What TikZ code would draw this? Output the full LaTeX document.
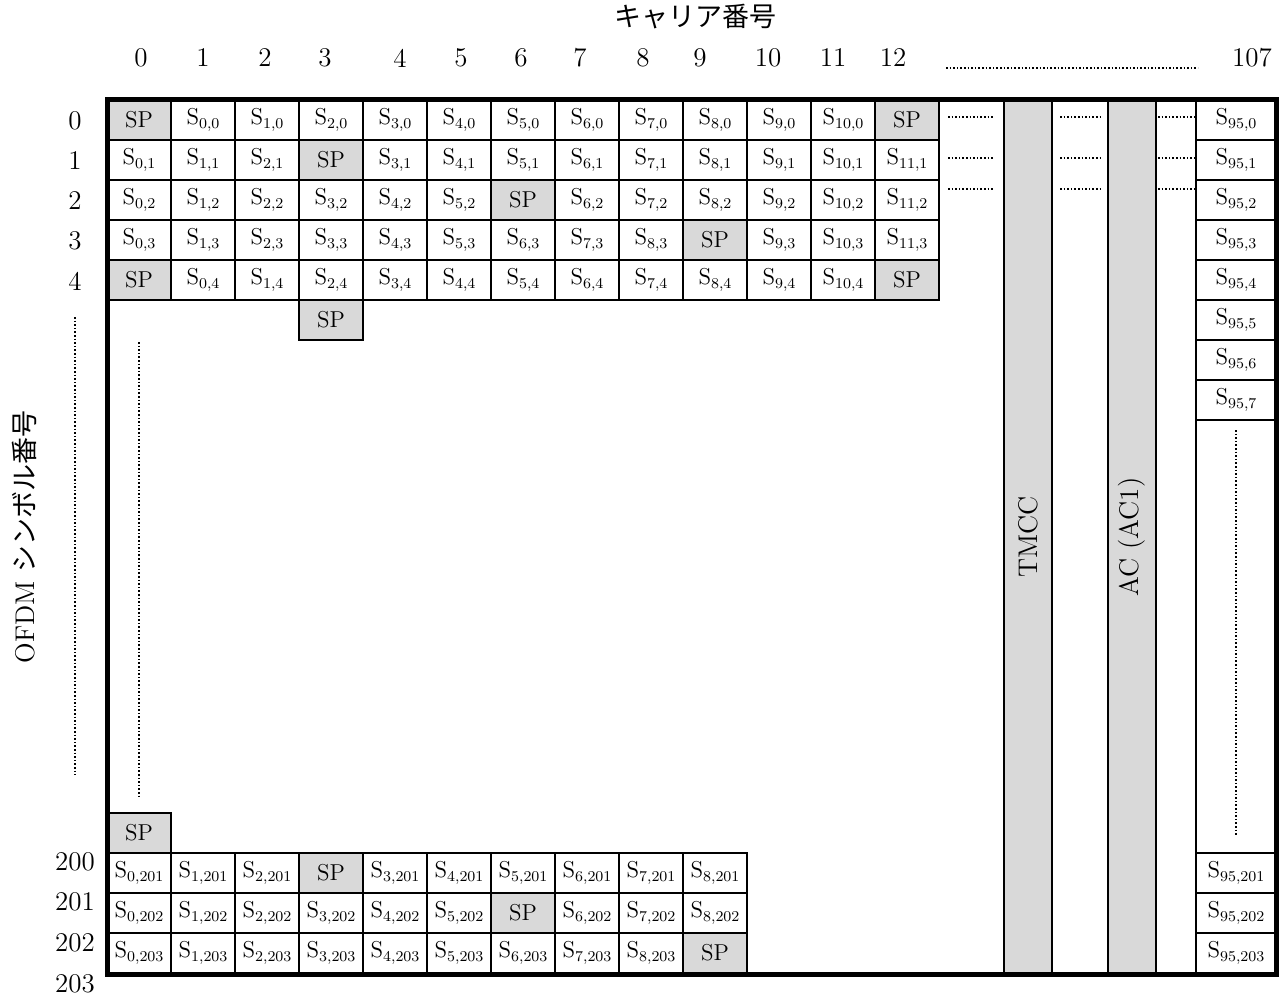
\documentclass[tikz,border=0pt]{standalone}
\usepackage{fontspec}
\newfontfamily\jpfont{Noto Sans CJK JP}
\usepackage{tikz}
\usetikzlibrary{positioning}
\definecolor{spgray}{RGB}{217,217,217}
\newcommand{\symb}[2]{S\raisebox{-0.45ex}{\fontsize{7.5}{8}\selectfont #1,#2}}

\begin{document}
\begin{tikzpicture}[
    x=0.5pt, y=-0.5pt,
    cell/.style={rectangle, draw, line width=1pt, minimum width=32pt, minimum height=20pt, inner sep=0pt, font=\fontsize{11.5}{13}\selectfont},
    spcell/.style={cell, fill=spgray},
    widecell/.style={cell, minimum width=40pt},
    num/.style={font=\fontsize{13.5}{15}\selectfont},
    lbl/.style={font=\fontsize{13.5}{16}\selectfont},
    gap/.style={line width=0.8pt, densely dotted}
]
    \useasboundingbox (0,0) rectangle (1286,996);

    % axis titles
    \node[lbl] (title) at (695,17) {\jpfont キャリア番号};
    \node[lbl, rotate=90] (ylabel) at (24,537) {OFDM {\jpfont シンボル番号}};

    % carrier numbers
    \foreach \c/\x in {0/141,1/203,2/265,3/325,4/400,5/461,6/521,7/580,8/643,9/700,10/768,11/833,12/893,107/1252}
        \node[num] (h\c) at (\x,58) {\c};
    \draw[gap] (946,68) -- (1198,68);

    % symbol numbers
    \foreach \r in {0,...,4}
        \node[num] (v\r) at (75,{121+40*\r}) {\r};
    \foreach \r/\y in {200/862,201/902,202/943,203/984}
        \node[num] (v\r) at (75,\y) {\r};
    \draw[gap] (75,317) -- (75,775);

    % first symbols
    \foreach \r in {0,...,4}{
        \pgfmathtruncatemacro\p{3*mod(\r,4)}
        \foreach \c in {0,...,12}{
            \pgfmathtruncatemacro\k{(\c>\p) ? (\c-1) : \c}
            \pgfmathtruncatemacro\q{(\c==\p) || (\c==(\p+12))}
            \ifnum\q=1
                \node[spcell] (s-\r-\c) at ({139+64*\c},{120+40*\r}) {SP};
            \else
                \node[cell] (s-\r-\c) at ({139+64*\c},{120+40*\r}) {\symb{\k}{\r}};
            \fi
        }
    }
    \node[spcell] (s-5-3) at (331,320) {SP};
    \draw[gap] (139,342) -- (139,797);

    % last symbols
    \node[spcell] (s-200-0) at (139,833) {SP};
    \foreach \r in {201,202,203}{
        \pgfmathtruncatemacro\p{3*mod(\r,4)}
        \foreach \c in {0,...,9}{
            \pgfmathtruncatemacro\k{(\c>\p) ? (\c-1) : \c}
            \ifnum\c=\p
                \node[spcell] (s-\r-\c) at ({139+64*\c},{873+40*(\r-201)}) {SP};
            \else
                \node[cell] (s-\r-\c) at ({139+64*\c},{873+40*(\r-201)}) {\symb{\k}{\r}};
            \fi
        }
    }

    % TMCC and AC carriers
    \draw[line width=1pt, fill=spgray] (1004,100) rectangle (1052,974);
    \draw[line width=1pt, fill=spgray] (1108,100) rectangle (1156,974);
    \node[lbl, rotate=90] (tmcc) at (1028,537) {TMCC};
    \node[lbl, rotate=90] (ac) at (1132,537) {AC (AC1)};
    \foreach \y in {117,158,189}{
        \draw[gap] (948,\y) -- (994,\y);
        \draw[gap] (1060,\y) -- (1100,\y);
        \draw[gap] (1158,\y) -- (1195,\y);
    }

    % carrier 107
    \foreach \r in {0,...,7}
        \node[widecell] (s95-\r) at (1236,{120+40*\r}) {\symb{95}{\r}};
    \node[widecell, minimum height=216.5pt] (s95-mid) at (1236,636.5) {};
    \draw[gap] (1236,430) -- (1236,835);
    \foreach \r in {201,202,203}
        \node[widecell] (s95-\r) at (1236,{873+40*(\r-201)}) {\symb{95}{\r}};

    % frame
    \draw[line width=2.5pt] (107.5,99.5) rectangle (1276.5,974.5);
\end{tikzpicture}
\end{document}
